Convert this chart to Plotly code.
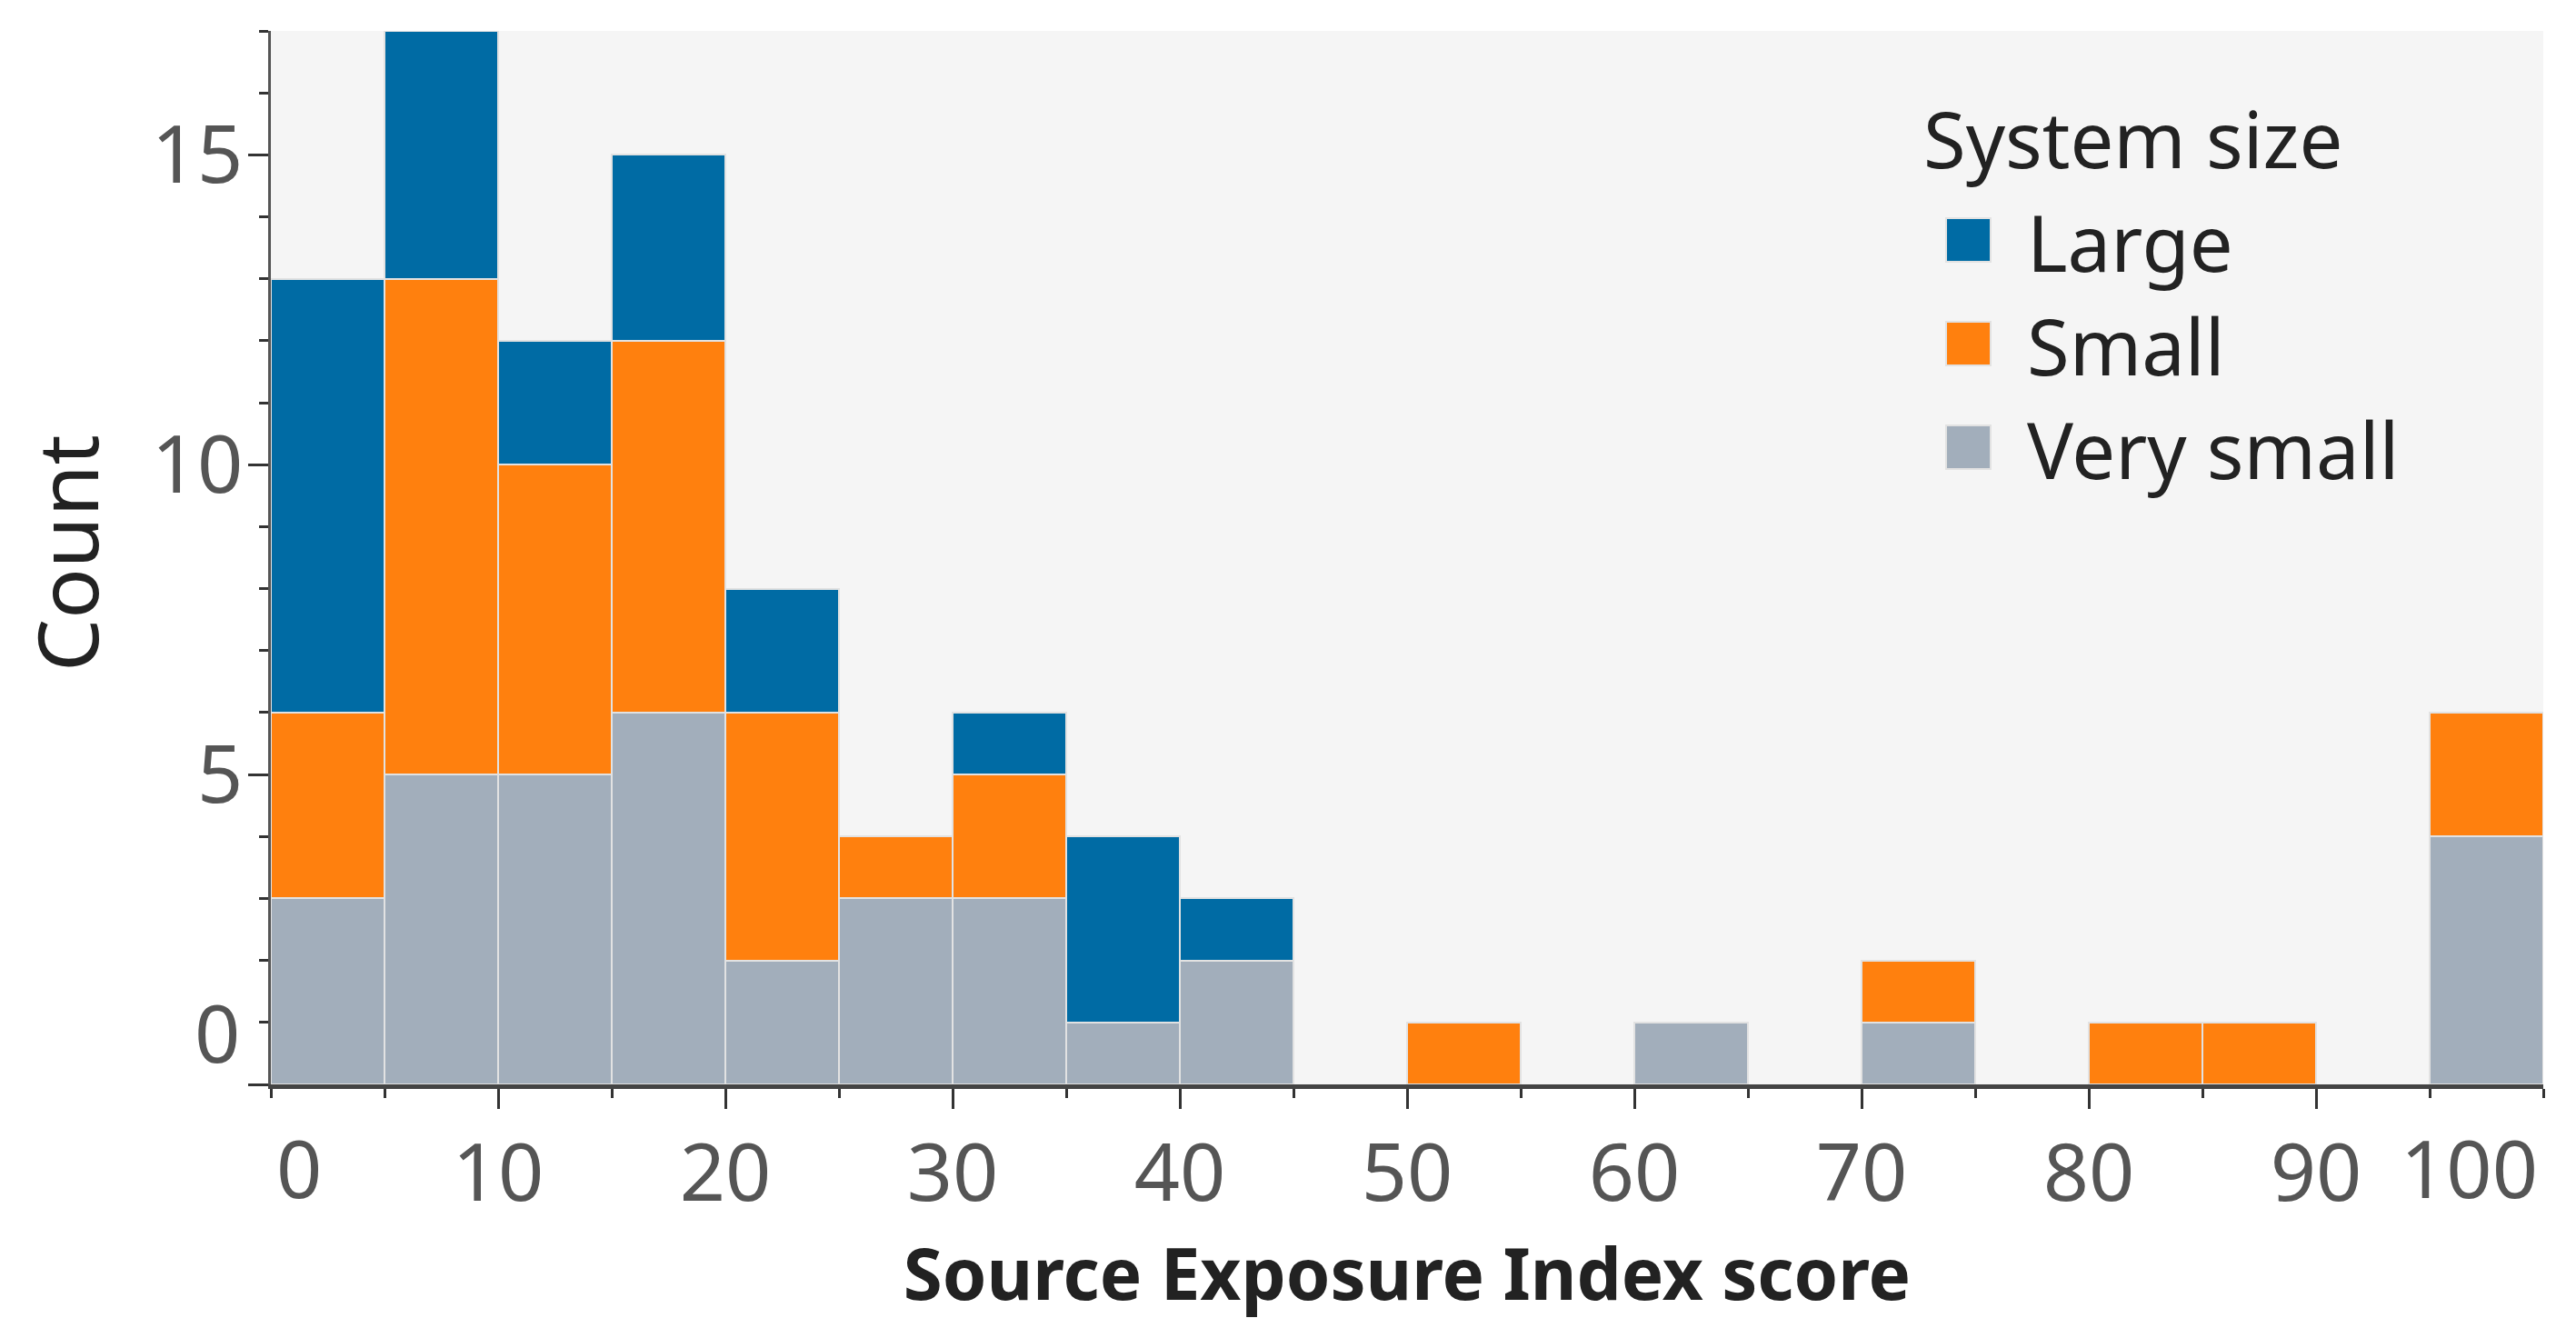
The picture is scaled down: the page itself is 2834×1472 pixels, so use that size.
import plotly.graph_objects as go

# Histogram of Source Exposure Index score, bins of width 5 (0-5 ... 95-100)
bin_starts = list(range(0, 100, 5))
large = [7, 4, 2, 3, 2, 0, 1, 3, 1, 0, 0, 0, 0, 0, 0, 0, 0, 0, 0, 0]
small = [3, 8, 5, 6, 4, 1, 2, 0, 0, 0, 1, 0, 0, 0, 1, 0, 1, 1, 0, 2]
very_small = [3, 5, 5, 6, 2, 3, 3, 1, 2, 0, 0, 0, 1, 0, 1, 0, 0, 0, 0, 4]

series_names = ["Large", "Small", "Very small"]
series_colors = ["#006BA4", "#FF800E", "#A2AEBB"]

x_ticks = list(range(10, 100, 10))
y_ticks = [5, 10, 15]

# page has an 8px body margin, so the figure is a little smaller than the window
W, H = 2818, 1456
L, R, T, B = 290, 28, 26, 271


def px_x(px):
    # px is measured in window pixels
    return (px - 8 - L) / (W - L - R)


def px_y(py):
    return (H - B - (py - 8)) / (H - T - B)


centers = [s + 2.5 for s in bin_starts]

fig = go.Figure()
# stacking order: first trace is at the bottom
for name, vals, col in [("Very small", very_small, series_colors[2]),
                        ("Small", small, series_colors[1]),
                        ("Large", large, series_colors[0])]:
    fig.add_trace(go.Bar(
        x=centers,
        y=[v if v > 0 else None for v in vals],
        width=5,
        name=name,
        marker=dict(color=col, line=dict(color="#E2E2E2", width=2)),
        showlegend=False,
    ))

tick_font = dict(family="Noto Sans", size=88, color="#555555")

fig.update_layout(
    width=W, height=H,
    margin=dict(l=L, r=R, t=T, b=B),
    barmode="stack",
    bargap=0,
    plot_bgcolor="#F5F5F5",
    paper_bgcolor="white",
    font=dict(family="Noto Sans", color="#333333"),
)

fig.update_xaxes(
    range=[0, 100],
    tickvals=x_ticks,
    ticktext=[str(v) for v in x_ticks],
    tickfont=tick_font,
    ticklabelstandoff=-5,
    ticks="outside", ticklen=22, tickwidth=3, tickcolor="#333333",
    minor=dict(dtick=5, tick0=0, ticks="outside", ticklen=10, tickwidth=3, tickcolor="#333333"),
    showline=True, linecolor="#444444", linewidth=5,
    showgrid=False, zeroline=False,
    title=dict(text="<b>Source Exposure Index score</b>",
               font=dict(family="Noto Sans", size=78, color="#222222"), standoff=26),
)

fig.update_yaxes(
    range=[0, 17],
    tickvals=[0] + y_ticks,
    ticktext=[""] + [str(v) for v in y_ticks],
    tickfont=tick_font,
    ticklabelstandoff=-12,
    ticks="outside", ticklen=22, tickwidth=3, tickcolor="#333333",
    minor=dict(dtick=1, tick0=0, ticks="outside", ticklen=10, tickwidth=3, tickcolor="#333333"),
    showline=True, linecolor="#555555", linewidth=3,
    showgrid=False, zeroline=False,
)

# y axis title as an annotation so it can sit close to the page edge
fig.add_annotation(x=px_x(72), xref="paper", y=px_y(609), yref="paper", text="Count",
                   textangle=-90, showarrow=False, xanchor="center", yanchor="middle",
                   font=dict(family="Noto Sans", size=92, color="#222222"))

# edge tick labels, kept inside the plot width like the original
fig.add_annotation(x=0, xref="x", y=0, yref="paper", text="0", showarrow=False,
                   xanchor="left", yanchor="middle", xshift=4, yshift=-91, font=tick_font)
fig.add_annotation(x=100, xref="x", y=0, yref="paper", text="100", showarrow=False,
                   xanchor="right", yanchor="middle", xshift=-4, yshift=-91, font=tick_font)
fig.add_annotation(x=0, xref="paper", y=0.85, yref="y", text="0", showarrow=False,
                   xanchor="right", yanchor="middle", xshift=-32, font=tick_font)

# legend drawn by hand so the swatches can be large
fig.add_annotation(x=px_x(2114), xref="paper", y=px_y(152), yref="paper", text="System size",
                   showarrow=False, xanchor="left", yanchor="middle",
                   font=dict(family="Noto Sans", size=85, color="#222222"))
row_y = [264, 378, 492]
for name, col, ry in zip(series_names, series_colors, row_y):
    fig.add_shape(type="rect", xref="paper", yref="paper",
                  x0=px_x(2141), x1=px_x(2190), y0=px_y(ry + 24), y1=px_y(ry - 24),
                  fillcolor=col, line=dict(color="#E2E2E2", width=2))
    fig.add_annotation(x=px_x(2228), xref="paper", y=px_y(ry + 2), yref="paper", text=name,
                       showarrow=False, xanchor="left", yanchor="middle",
                       font=dict(family="Noto Sans", size=85, color="#222222"))

fig.write_html("out.html")
